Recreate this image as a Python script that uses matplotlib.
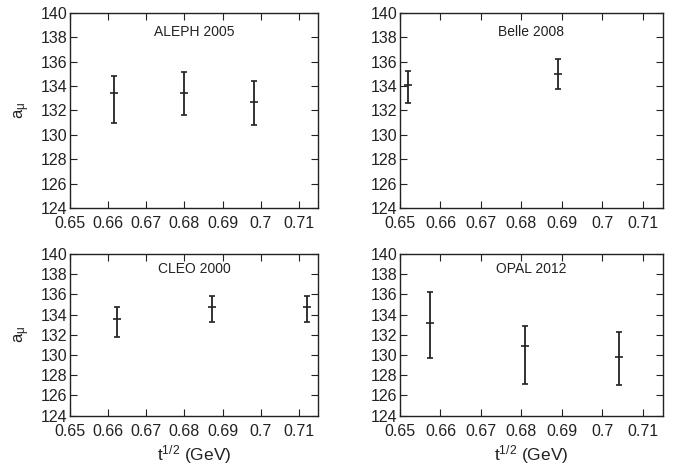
import numpy as np
import matplotlib.pyplot as plt

plt.rcParams['font.family'] = ['Liberation Sans', 'DejaVu Sans']
plt.rcParams['mathtext.fontset'] = 'custom'
plt.rcParams['mathtext.rm'] = 'Liberation Sans'
plt.rcParams['mathtext.it'] = 'Liberation Sans'

# data: x, central value, lower and upper edge of error bar
aleph_x = [0.6615, 0.6798, 0.6981]
aleph_y = [133.4, 133.45, 132.7]
aleph_lo = [131.0, 131.6, 130.85]
aleph_hi = [134.85, 135.15, 134.4]

belle_x = [0.6519, 0.6891]
belle_y = [134.1, 135.0]
belle_lo = [132.65, 133.8]
belle_hi = [135.2, 136.25]

cleo_x = [0.6623, 0.6872, 0.7122]
cleo_y = [133.55, 134.75, 134.75]
cleo_lo = [131.8, 133.3, 133.25]
cleo_hi = [134.8, 135.85, 135.8]

opal_x = [0.6573, 0.6810, 0.7042]
opal_y = [133.15, 130.9, 129.85]
opal_lo = [129.75, 127.1, 127.0]
opal_hi = [136.25, 132.9, 132.3]

labels = ['ALEPH 2005', 'Belle 2008', 'CLEO 2000', 'OPAL 2012']
xticks = [0.65, 0.66, 0.67, 0.68, 0.69, 0.70, 0.71]
xticklabels = ['0.65', '0.66', '0.67', '0.68', '0.69', '0.7', '0.71']
yticks = np.arange(124, 141, 2)

fig = plt.figure(figsize=(6.82, 4.71), dpi=100)

# axes rectangles [left, bottom, width, height]
rects = [
    [0.1026, 0.5584, 0.3637, 0.4140],
    [0.5865, 0.5584, 0.3856, 0.4140],
    [0.1026, 0.1174, 0.3637, 0.3433],
    [0.5865, 0.1174, 0.3856, 0.3433],
]
sets = [
    (aleph_x, aleph_y, aleph_lo, aleph_hi),
    (belle_x, belle_y, belle_lo, belle_hi),
    (cleo_x, cleo_y, cleo_lo, cleo_hi),
    (opal_x, opal_y, opal_lo, opal_hi),
]
ink = '#222222'

for i in range(4):
    ax = fig.add_axes(rects[i])
    x, y, lo, hi = [np.array(v) for v in sets[i]]
    err = [y - lo, hi - y]
    ax.errorbar(x, y, yerr=err, fmt='none', ecolor=ink, elinewidth=1.3,
                capsize=2.5, capthick=1.2)
    ax.plot(x, y, ls='none', marker='_', ms=6, mew=1.2, color=ink)
    ax.set_xlim(0.65, 0.715)
    ax.set_ylim(124, 140)
    ax.set_xticks(xticks)
    ax.set_xticklabels(xticklabels)
    ax.set_yticks(yticks)
    ax.tick_params(direction='in', top=True, right=True, length=5, width=0.8,
                   labelsize=11.5, colors=ink)
    ax.tick_params(axis='x', pad=6)
    ax.tick_params(axis='y', pad=2)
    for s in ax.spines.values():
        s.set_linewidth(1.0)
        s.set_color(ink)
    if i in (0, 2):
        ax.set_ylabel(r'a$_\mathrm{\mu}$', fontsize=12, labelpad=6, color=ink)
    if i in (2, 3):
        ax.set_xlabel(r't$^{1/2}$ (GeV)', fontsize=12.5, labelpad=3, color=ink)
    ax.text(0.5, 0.905, labels[i], transform=ax.transAxes, ha='center', va='center',
            fontsize=10, color=ink)

fig.savefig('out.png', dpi=100)
